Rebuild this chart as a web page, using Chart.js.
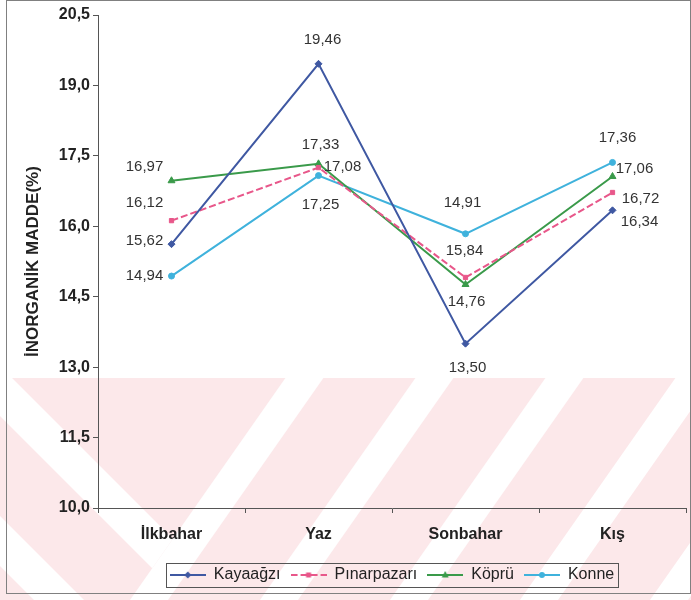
<!DOCTYPE html>
<html lang="tr">
<head>
<meta charset="utf-8">
<title>İnorganik madde</title>
<style>
  body { margin: 0; background: #fff; }
  #wrap { width: 691px; height: 600px; }
</style>
</head>
<body>
<div id="wrap"><canvas id="chart" width="691" height="600"></canvas></div>
<script src="https://cdn.jsdelivr.net/npm/chart.js@4"></script>
<script>
const seasons = ["İlkbahar", "Yaz", "Sonbahar", "Kış"];
const kayaagzi = [15.62, 19.46, 13.50, 16.34];
const pinarpazari = [16.12, 17.25, 14.91, 16.72];
const kopru = [16.97, 17.33, 14.76, 17.06];
const konne = [14.94, 17.08, 15.84, 17.36];
const yTicks = [10.0, 11.5, 13.0, 14.5, 16.0, 17.5, 19.0, 20.5];

// where each value label sits relative to its point, in px
const labelOffsets = {
  "Kayaağzı":    [[-27, -3], [4, -24], [2, 24], [27, 12]],
  "Pınarpazarı": [[-27, -18], [2, 37], [-3, -75], [28, 6]],
  "Köprü":       [[-27, -14], [2, -19], [1, 17], [22, -8]],
  "Konne":       [[-27, 0], [24, -9], [-1, 17], [5, -25]]
};

const FONT = "'Liberation Sans', Arial, sans-serif";
Chart.defaults.font.family = FONT;

const series = [
  { label: "Kayaağzı", data: kayaagzi, color: "#3f58a2", marker: "rectRot", r: 3.5, dash: [] },
  { label: "Pınarpazarı", data: pinarpazari, color: "#e8578a", marker: "rect", r: 3, dash: [7, 3] },
  { label: "Köprü", data: kopru, color: "#3a9a4a", marker: "triangle", r: 4, dash: [] },
  { label: "Konne", data: konne, color: "#3fb2dc", marker: "circle", r: 3, dash: [] }
];

// small line+marker pictures for the legend
function legendIcon(s) {
  const c = document.createElement("canvas");
  c.width = 36; c.height = 12;
  const g = c.getContext("2d");
  g.strokeStyle = s.color; g.fillStyle = s.color; g.lineWidth = 2;
  g.setLineDash(s.dash);
  g.beginPath(); g.moveTo(0, 6); g.lineTo(36, 6); g.stroke();
  g.setLineDash([]);
  g.beginPath();
  if (s.marker === "rectRot") { g.moveTo(18, 2.5); g.lineTo(21.5, 6); g.lineTo(18, 9.5); g.lineTo(14.5, 6); }
  else if (s.marker === "rect") { g.rect(15.5, 3.5, 5, 5); }
  else if (s.marker === "triangle") { g.moveTo(18, 2); g.lineTo(21.5, 8.5); g.lineTo(14.5, 8.5); }
  else { g.arc(18, 6, 3, 0, Math.PI * 2); }
  g.closePath(); g.fill();
  return c;
}
const icons = series.map(legendIcon);

// pale diagonal stripes over the lower part of the scan
const watermark = {
  id: "watermark",
  beforeDraw(chart) {
    const ctx = chart.ctx, top = 378, W = chart.width, H = chart.height;
    ctx.save();
    ctx.beginPath(); ctx.rect(0, top, W, H - top); ctx.clip();
    ctx.fillStyle = "#fce8ea";
    ctx.fillRect(0, top, W, H - top);
    ctx.fillStyle = "#ffffff";
    [550, 680, 810, 940, 1070].forEach(b => {
      ctx.beginPath();
      ctx.moveTo(b - 0.7 * top, top); ctx.lineTo(b + 38 - 0.7 * top, top);
      ctx.lineTo(b + 38 - 0.7 * H, H); ctx.lineTo(b - 0.7 * H, H);
      ctx.closePath(); ctx.fill();
    });
    ctx.beginPath();
    ctx.moveTo(0, top); ctx.lineTo(550 - 0.7 * top, top); ctx.lineTo(550 - 0.7 * H, H); ctx.lineTo(0, H);
    ctx.closePath(); ctx.clip();
    [366, 516].forEach(a => {
      ctx.beginPath();
      ctx.moveTo(-20, a - 20); ctx.lineTo(400, a + 400);
      ctx.lineTo(400, a + 450); ctx.lineTo(-20, a + 30);
      ctx.closePath(); ctx.fill();
    });
    ctx.restore();
  }
};

const frame = {
  id: "frame",
  afterDraw(chart) {
    const ctx = chart.ctx;
    ctx.save();
    ctx.strokeStyle = "#808080"; ctx.lineWidth = 1;
    ctx.strokeRect(6.5, 0.5, 684, 593);
    const boxes = chart.legend.legendHitBoxes;
    if (boxes.length) {
      const l = Math.min(...boxes.map(b => b.left)) - 4;
      const r = Math.max(...boxes.map(b => b.left + b.width)) + 4;
      const t = Math.min(...boxes.map(b => b.top)) - 4;
      const btm = Math.max(...boxes.map(b => b.top + b.height)) + 4;
      ctx.strokeStyle = "#555";
      ctx.strokeRect(Math.round(l) + 0.5, Math.round(t) + 0.5, Math.round(r - l), Math.round(btm - t));
    }
    ctx.restore();
  }
};

const valueLabels = {
  id: "valueLabels",
  afterDatasetsDraw(chart) {
    const ctx = chart.ctx;
    ctx.save();
    ctx.font = "15px " + FONT;
    ctx.fillStyle = "#333";
    ctx.textAlign = "center";
    ctx.textBaseline = "middle";
    chart.data.datasets.forEach((ds, i) => {
      chart.getDatasetMeta(i).data.forEach((pt, j) => {
        const [dx, dy] = labelOffsets[ds.label][j];
        ctx.fillText(ds.data[j].toFixed(2).replace(".", ","), pt.x + dx, pt.y + dy);
      });
    });
    ctx.restore();
  }
};

new Chart(document.getElementById("chart"), {
  type: "line",
  data: {
    labels: seasons,
    datasets: series.map(s => ({
      label: s.label,
      data: s.data,
      borderColor: s.color,
      backgroundColor: s.color,
      borderWidth: 2,
      borderDash: s.dash,
      pointStyle: s.marker,
      pointRadius: s.r,
      pointBorderWidth: 1,
      tension: 0
    }))
  },
  options: {
    responsive: false,
    animation: false,
    layout: { padding: { left: 8, right: 3, top: 15, bottom: 7 } },
    scales: {
      x: {
        offset: true,
        grid: { offset: true, drawOnChartArea: false, tickLength: 5, color: "#555" },
        border: { color: "#555" },
        ticks: { color: "#222", padding: 12, maxRotation: 0, font: { size: 16, weight: "bold" } },
        afterFit: s => { s.height = 49; }
      },
      y: {
        min: 10,
        max: 20.5,
        afterBuildTicks: s => { s.ticks = yTicks.map(v => ({ value: v })); },
        grid: { drawOnChartArea: false, tickLength: 5, color: "#555" },
        border: { color: "#555" },
        ticks: {
          color: "#222", padding: 3, font: { size: 16, weight: "bold" },
          callback: v => v.toFixed(1).replace(".", ",")
        },
        title: {
          display: true, text: "İNORGANİK MADDE(%)", color: "#222",
          font: { size: 17, weight: "bold" }, padding: { top: 15, bottom: 0 }
        },
        afterFit: s => { s.width = 90; }
      }
    },
    plugins: {
      legend: {
        position: "bottom",
        fullSize: false,
        labels: {
          usePointStyle: true,
          pointStyleWidth: 36,
          boxHeight: 12,
          padding: 10,
          color: "#222",
          font: { size: 16 },
          generateLabels: chart => Chart.defaults.plugins.legend.labels.generateLabels(chart)
            .map((item, i) => Object.assign(item, { pointStyle: icons[i] }))
        }
      },
      tooltip: { enabled: false }
    }
  },
  plugins: [watermark, valueLabels, frame]
});
</script>
</body>
</html>
